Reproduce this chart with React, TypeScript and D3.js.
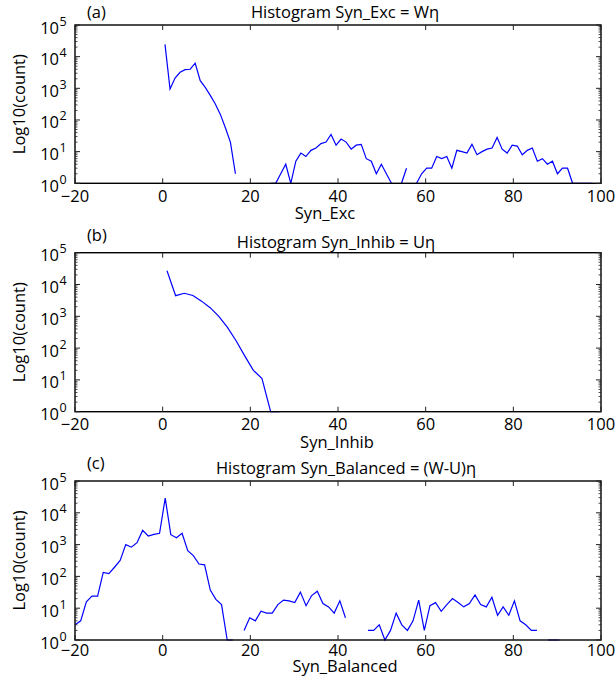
import React from 'react';
import * as d3 from 'd3';

// bin centres and counts; 0 = empty bin (gap in the semilog line)
const excBins = [
  0.53, 1.68, 2.83, 3.97, 5.12, 6.27, 7.42, 8.57, 9.71, 10.86, 12.01, 13.16, 14.31, 15.45, 16.6,
  17.75, 18.9, 20.05, 21.19, 22.34, 23.49, 24.64, 25.79, 26.93, 28.08, 29.23, 30.38, 31.53, 32.67,
  33.82, 34.97, 36.12, 37.27, 38.41, 39.56, 40.71, 41.86, 43.01, 44.15, 45.3, 46.45, 47.6, 48.75,
  49.89, 51.04, 52.19, 53.34, 54.49, 55.63, 56.78, 57.93, 59.08, 60.23, 61.37, 62.52, 63.67, 64.82,
  65.97, 67.11, 68.26, 69.41, 70.56, 71.71, 72.85, 74.0, 75.15, 76.3, 77.45, 78.59, 79.74, 80.89,
  82.04, 83.19, 84.33, 85.48, 86.63, 87.78, 88.93, 90.07, 91.22, 92.37, 93.52, 94.67, 95.81, 96.96,
  98.11,
];
const excCounts = [
  24500, 950, 2100, 3200, 3900, 4000, 6200, 1750, 1070, 600, 320, 150, 57, 20, 2,
  0, 0, 0, 0, 0, 0, 1, 1, 2, 4, 1, 5, 9, 7,
  11, 13, 18, 20, 35, 16, 25, 20, 12, 16, 17, 6, 5, 2,
  4, 2, 1, 0, 1, 3, 0, 1, 2, 3, 3, 7, 6, 7,
  3, 11, 10, 9, 17, 8, 10, 12, 13, 28, 12, 9, 16, 15,
  8, 11, 13, 5, 6, 4, 5, 2, 3, 3, 1, 1, 1, 1,
  1,
];

const inhBins = [0.99, 2.96, 4.93, 6.9, 8.87, 10.84, 12.81, 14.78, 16.75, 18.72, 20.69, 22.66, 24.63, 26.6];
const inhCounts = [27000, 4450, 5300, 4500, 3000, 1870, 1000, 450, 170, 57, 20, 11, 1, 1];

const balBins = [
  -19.98, -18.7, -17.41, -16.13, -14.84, -13.56, -12.27, -10.99, -9.7, -8.42, -7.13, -5.85, -4.56,
  -3.28, -1.99, -0.71, 0.58, 1.86, 3.15, 4.43, 5.72, 7.0, 8.29, 9.57, 10.86, 12.14, 13.43, 14.72,
  16.0, 17.29, 18.57, 19.86, 21.14, 22.43, 23.71, 25.0, 26.28, 27.57, 28.85, 30.14, 31.42, 32.71,
  33.99, 35.28, 36.56, 37.85, 39.13, 40.42, 41.7, 42.99, 44.27, 45.56, 46.84, 48.13, 49.41, 50.7,
  51.98, 53.27, 54.55, 55.84, 57.12, 58.41, 59.69, 60.98, 62.26, 63.55, 64.83, 66.12, 67.4, 68.69,
  69.97, 71.26, 72.54, 73.83, 75.11, 76.4, 77.68, 78.97, 80.25, 81.54, 82.82, 84.11, 85.39, 86.68,
  87.96, 89.25, 90.53, 91.82, 93.1,
];
const balCounts = [
  3, 4, 16, 24, 24, 134, 122, 194, 320, 1000, 830, 1150, 2800,
  1870, 2100, 2270, 29000, 2050, 1650, 2270, 640, 450, 245, 230, 37, 19, 13, 1,
  1, 0, 2, 5, 4, 8, 7, 7, 13, 18, 17, 15, 32, 12,
  25, 34, 14, 11, 7, 17, 5, 0, 5, 0, 2, 2, 3, 1,
  2, 7, 3, 2, 4, 18, 2, 12, 15, 8, 13, 20, 15, 11,
  14, 26, 13, 11, 22, 6, 11, 6, 17, 4, 3, 2, 2, 0,
  1, 1, 1, 0, 2,
];

const xTicks = [-20, 0, 20, 40, 60, 80, 100];
const yExponents = [0, 1, 2, 3, 4, 5];

const FONT = '"Open Sans", "DejaVu Sans", sans-serif';
const FS = 16.5;
const LEFT = 75;
const RIGHT = 601;

type PanelProps = {
  bins: number[];
  counts: number[];
  tag: string;
  title: string;
  xlabel: string;
  top: number;
  bottom: number;
  tagY: number;
  titleX: number;
  titleY: number;
  tickY: number;
  labelX: number;
  labelY: number;
};

function Panel(p: PanelProps) {
  const x = d3.scaleLinear().domain([-20, 100]).range([LEFT, RIGHT]);
  const y = d3.scaleLog().domain([1, 1e5]).range([p.bottom, p.top]);

  const pts: [number, number][] = p.bins.map((b, i) => [b, p.counts[i]]);
  const line = d3
    .line<[number, number]>()
    .defined((d) => d[1] > 0)
    .x((d) => x(d[0]))
    .y((d) => y(d[1]));

  const minor: number[] = [];
  yExponents.slice(0, -1).forEach((e) => {
    for (let m = 2; m < 10; m++) minor.push(m * Math.pow(10, e));
  });

  const midY = (p.top + p.bottom) / 2;

  return (
    <g fontFamily={FONT} fill="#000">
      <text x={87} y={p.tagY} fontSize={FS}>{p.tag}</text>
      <text x={p.titleX} y={p.titleY} fontSize={FS} textAnchor="middle">{p.title}</text>

      <path d={line(pts) || ''} fill="none" stroke="#0000ff" strokeWidth={1.2} />

      {/* box */}
      <rect x={LEFT} y={p.top} width={RIGHT - LEFT} height={p.bottom - p.top} fill="none" stroke="#000" strokeWidth={1.4} />

      {xTicks.map((t) => (
        <g key={'x' + t}>
          <line x1={x(t)} x2={x(t)} y1={p.bottom} y2={p.bottom - 5} stroke="#222" />
          <line x1={x(t)} x2={x(t)} y1={p.top} y2={p.top + 5} stroke="#222" />
          <text x={x(t)} y={p.tickY} fontSize={FS} textAnchor="middle">
            {t < 0 ? '\u2212' + Math.abs(t) : t}
          </text>
        </g>
      ))}

      {yExponents.map((e) => {
        const yy = y(Math.pow(10, e));
        return (
          <g key={'y' + e}>
            <line x1={LEFT} x2={LEFT + 5} y1={yy} y2={yy} stroke="#222" />
            <line x1={RIGHT} x2={RIGHT - 5} y1={yy} y2={yy} stroke="#222" />
            <text x={59} y={yy + 8.5} fontSize={FS} textAnchor="end">10</text>
            <text x={59.5} y={yy + 0.5} fontSize={12.5}>{e}</text>
          </g>
        );
      })}
      {minor.map((v) => (
        <g key={'m' + v}>
          <line x1={LEFT} x2={LEFT + 2.5} y1={y(v)} y2={y(v)} stroke="#222" strokeWidth={0.8} />
          <line x1={RIGHT} x2={RIGHT - 2.5} y1={y(v)} y2={y(v)} stroke="#222" strokeWidth={0.8} />
        </g>
      ))}

      <text x={p.labelX} y={p.labelY} fontSize={FS} textAnchor="middle">{p.xlabel}</text>
      <text transform={`translate(25,${midY}) rotate(-90)`} fontSize={FS} textAnchor="middle">Log10(count)</text>
    </g>
  );
}

const panels: PanelProps[] = [
  { bins: excBins, counts: excCounts, tag: '(a)', title: 'Histogram Syn_Exc = W\u03b7', xlabel: 'Syn_Exc',
    top: 25, bottom: 183.3, tagY: 18, titleX: 345, titleY: 17.5, tickY: 202, labelX: 325, labelY: 219 },
  { bins: inhBins, counts: inhCounts, tag: '(b)', title: 'Histogram Syn_Inhib = U\u03b7', xlabel: 'Syn_Inhib',
    top: 252.7, bottom: 411.7, tagY: 241, titleX: 336, titleY: 248, tickY: 430, labelX: 337, labelY: 448 },
  { bins: balBins, counts: balCounts, tag: '(c)', title: 'Histogram Syn_Balanced = (W-U)\u03b7', xlabel: 'Syn_Balanced',
    top: 481, bottom: 640, tagY: 469, titleX: 346, titleY: 474, tickY: 656, labelX: 345, labelY: 672 },
];

export default function App() {
  return (
    <svg width={616} height={679} style={{ position: 'absolute', left: 0, top: 0, background: '#fff' }}>
      <rect width={616} height={679} fill="#fff" />
      {panels.map((p) => (
        <Panel key={p.tag} {...p} />
      ))}
    </svg>
  );
}
